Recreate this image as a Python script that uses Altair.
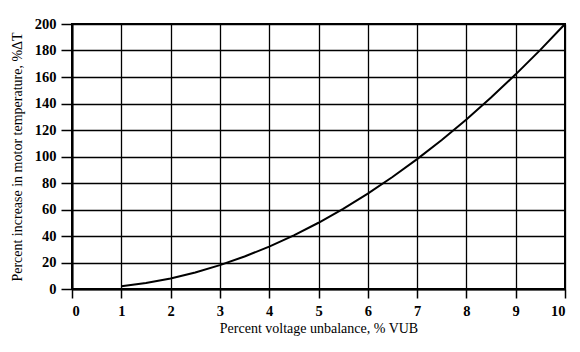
import altair as alt
import pandas as pd

vub = [1, 1.5, 2, 2.5, 3, 3.5, 4, 4.5, 5, 5.5, 6, 6.5, 7, 7.5, 8, 8.5, 9, 9.5, 10]
dt = [2, 4.5, 8, 12.5, 18, 24.5, 32, 40.5, 50, 60.5, 72, 84.5, 98, 112.5, 128, 144.5, 162, 180.5, 200]
x_ticks = list(range(0, 11))
y_ticks = list(range(0, 201, 20))

df = pd.DataFrame({"vub": vub, "dt": dt})

FONT = "Liberation Serif"

chart = alt.Chart(df).mark_line(color="black", strokeWidth=2).encode(
    x=alt.X("vub:Q", scale=alt.Scale(domain=[0, 10], nice=False),
            axis=alt.Axis(values=x_ticks, title="Percent voltage unbalance, % VUB",
                          tickSize=9, labelPadding=6, titlePadding=4)),
    y=alt.Y("dt:Q", scale=alt.Scale(domain=[0, 200], nice=False),
            axis=alt.Axis(values=y_ticks, title="Percent increase in motor temperature, %ΔT",
                          tickSize=11, labelPadding=5, titlePadding=10)),
).properties(
    width=493, height=265,
    background="white",
    autosize=alt.AutoSizeParams(type="none"),
    padding={"left": 72, "top": 24, "right": 15, "bottom": 63},
).configure_view(
    stroke="black", strokeWidth=2
).configure_axis(
    grid=True, gridColor="black", gridOpacity=1, gridWidth=1.3,
    domain=True, domainColor="black", domainWidth=2,
    tickColor="black", tickWidth=1.5,
    labelFont=FONT, labelFontSize=14.5, labelColor="black", labelFontWeight="bold",
    titleFont=FONT, titleFontSize=14, titleColor="black", titleFontWeight="normal",
)

chart.save("out.html", embed_options={"renderer": "svg", "actions": False})
